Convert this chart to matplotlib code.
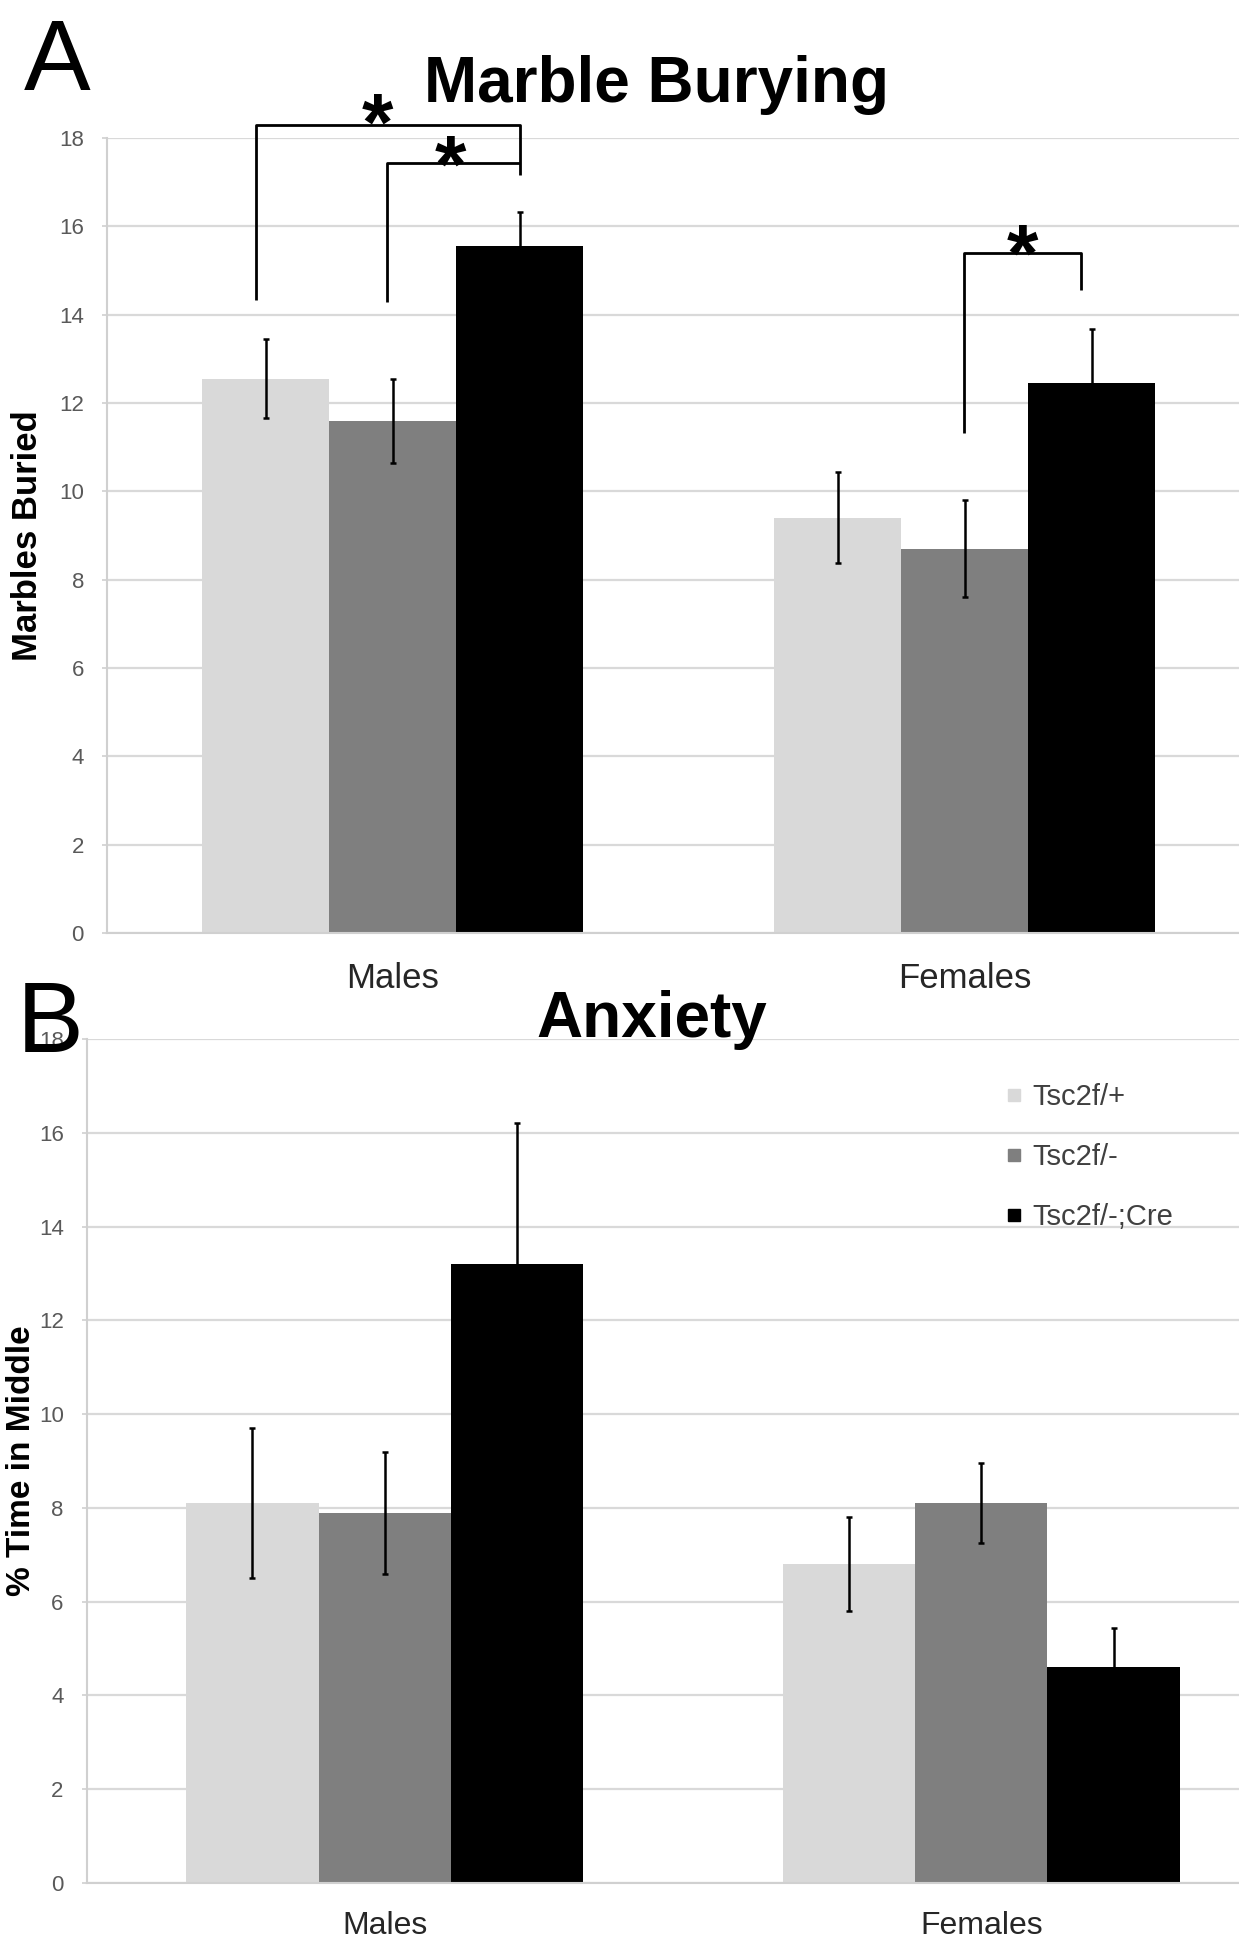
import matplotlib
matplotlib.use("Agg")
import matplotlib.pyplot as plt
from matplotlib.lines import Line2D
from matplotlib.transforms import blended_transform_factory
import numpy as np

plt.rcParams['font.family'] = ['Liberation Sans', 'DejaVu Sans']

# ---------------- data ----------------
groups = ["Males", "Females"]
genotypes = ["Tsc2f/+", "Tsc2f/-", "Tsc2f/-;Cre"]
colors = ["#d9d9d9", "#7f7f7f", "#000000"]

# Panel A: Marble Burying (marbles buried), mean and SEM, per genotype [Males, Females]
marbles_mean = {"Tsc2f/+": [12.55, 9.40], "Tsc2f/-": [11.60, 8.70], "Tsc2f/-;Cre": [15.55, 12.45]}
marbles_sem = {"Tsc2f/+": [0.90, 1.03], "Tsc2f/-": [0.95, 1.10], "Tsc2f/-;Cre": [0.77, 1.22]}

# Panel B: Anxiety (% time in middle)
anxiety_mean = {"Tsc2f/+": [8.10, 6.80], "Tsc2f/-": [7.90, 8.10], "Tsc2f/-;Cre": [13.20, 4.60]}
anxiety_sem = {"Tsc2f/+": [1.60, 1.00], "Tsc2f/-": [1.30, 0.85], "Tsc2f/-;Cre": [3.00, 0.83]}

yticks = [0, 2, 4, 6, 8, 10, 12, 14, 16, 18]

W, H = 1239, 1938
fig = plt.figure(figsize=(W / 100, H / 100), dpi=100)

def fx(px):
    return px / W

def fy(py):
    return 1 - py / H

bar_w = 0.222
grid_c = "#d9d9d9"
tick_c = "#595959"

def draw_panel(ax, means, sems):
    x = np.arange(len(groups))
    for i, g in enumerate(genotypes):
        xi = x + (i - 1) * bar_w
        ax.bar(xi, means[g], width=bar_w, color=colors[i], zorder=2, label=g)
        ax.errorbar(xi, means[g], yerr=sems[g], fmt='none', ecolor='black',
                    elinewidth=1.8, capsize=2.5, capthick=1.8, zorder=3)
    ax.set_xlim(-0.5, 1.5)
    ax.set_ylim(0, 18)
    ax.set_yticks(yticks)
    ax.set_yticklabels([str(t) for t in yticks])
    ax.yaxis.grid(True, color=grid_c, lw=1.6, zorder=0)
    ax.set_axisbelow(True)
    for s in ["top", "right"]:
        ax.spines[s].set_visible(False)
    ax.spines["left"].set_color("#d0d0d0")
    ax.spines["left"].set_linewidth(1.5)
    ax.spines["bottom"].set_color("#d0d0d0")
    ax.spines["bottom"].set_linewidth(1.5)
    ax.tick_params(axis='y', length=3.5, width=1.2, color="#d0d0d0",
                   labelsize=16, labelcolor=tick_c, pad=13)
    ax.set_xticks([])
    return x

# ---------------- Panel A ----------------
axA = fig.add_axes([fx(106.8), fy(933), 1144 / W, 795 / H])
xA = draw_panel(axA, marbles_mean, marbles_sem)
trA = blended_transform_factory(axA.transData, fig.transFigure)
for xi, g in zip(xA, groups):
    axA.text(xi, fy(988), g, transform=trA, ha='center', va='baseline',
             fontsize=25, color="#262626")

# significance brackets (Males: Cre vs f/+ and Cre vs f/-; Females: Cre vs f/-)
bk = dict(color='black', lw=2.0, clip_on=False, zorder=4, solid_capstyle='butt')
axA.plot([-0.24, -0.24, 0.222, 0.222], [14.33, 18.29, 18.29, 17.16], **bk)
axA.plot([-0.010, -0.010, 0.222], [14.29, 17.43, 17.43], **bk)
axA.plot([0.998, 0.998, 1.203, 1.203], [11.32, 15.39, 15.39, 14.56], **bk)
star_fs = 58
for sx, sy in [(-0.027, 18.80), (0.100, 17.84), (1.101, 15.84)]:
    axA.annotate("*", xy=(sx, sy), xytext=(0, -0.58 * star_fs), textcoords='offset points',
                 ha='center', va='baseline', fontsize=star_fs, fontweight='bold',
                 annotation_clip=False, zorder=5)

fig.text(fx(656), fy(102), "Marble Burying", ha='center', va='baseline',
         fontsize=46, fontweight='bold')
fig.text(fx(24), fy(90), "A", ha='left', va='baseline', fontsize=72)
fig.text(fx(28), fy(535.5), "Marbles Buried", rotation=90, ha='center', va='center',
         fontsize=25, fontweight='bold')

# ---------------- Panel B ----------------
axB = fig.add_axes([fx(86.6), fy(1883), 1192.8 / W, 844 / H])
xB = draw_panel(axB, anxiety_mean, anxiety_sem)
trB = blended_transform_factory(axB.transData, fig.transFigure)
for xi, g in zip(xB, groups):
    axB.text(xi, fy(1934), g, transform=trB, ha='center', va='baseline',
             fontsize=23, color="#262626")

fig.text(fx(652), fy(1037), "Anxiety", ha='center', va='baseline',
         fontsize=46, fontweight='bold')
fig.text(fx(17), fy(1052), "B", ha='left', va='baseline', fontsize=72)
fig.text(fx(22), fy(1461), "% Time in Middle", rotation=90, ha='center', va='center',
         fontsize=24, fontweight='bold')

handles = [Line2D([], [], marker='s', ls='none', color=c, markersize=8) for c in colors]
fig.legend(handles, genotypes, loc='upper left',
           bbox_to_anchor=(fx(1005), fy(1083)), bbox_transform=fig.transFigure,
           frameon=False, fontsize=21, handlelength=0.6, handletextpad=0.33,
           labelspacing=1.1, borderpad=0, borderaxespad=0, labelcolor="#404040")

fig.savefig("out.png", dpi=100)
